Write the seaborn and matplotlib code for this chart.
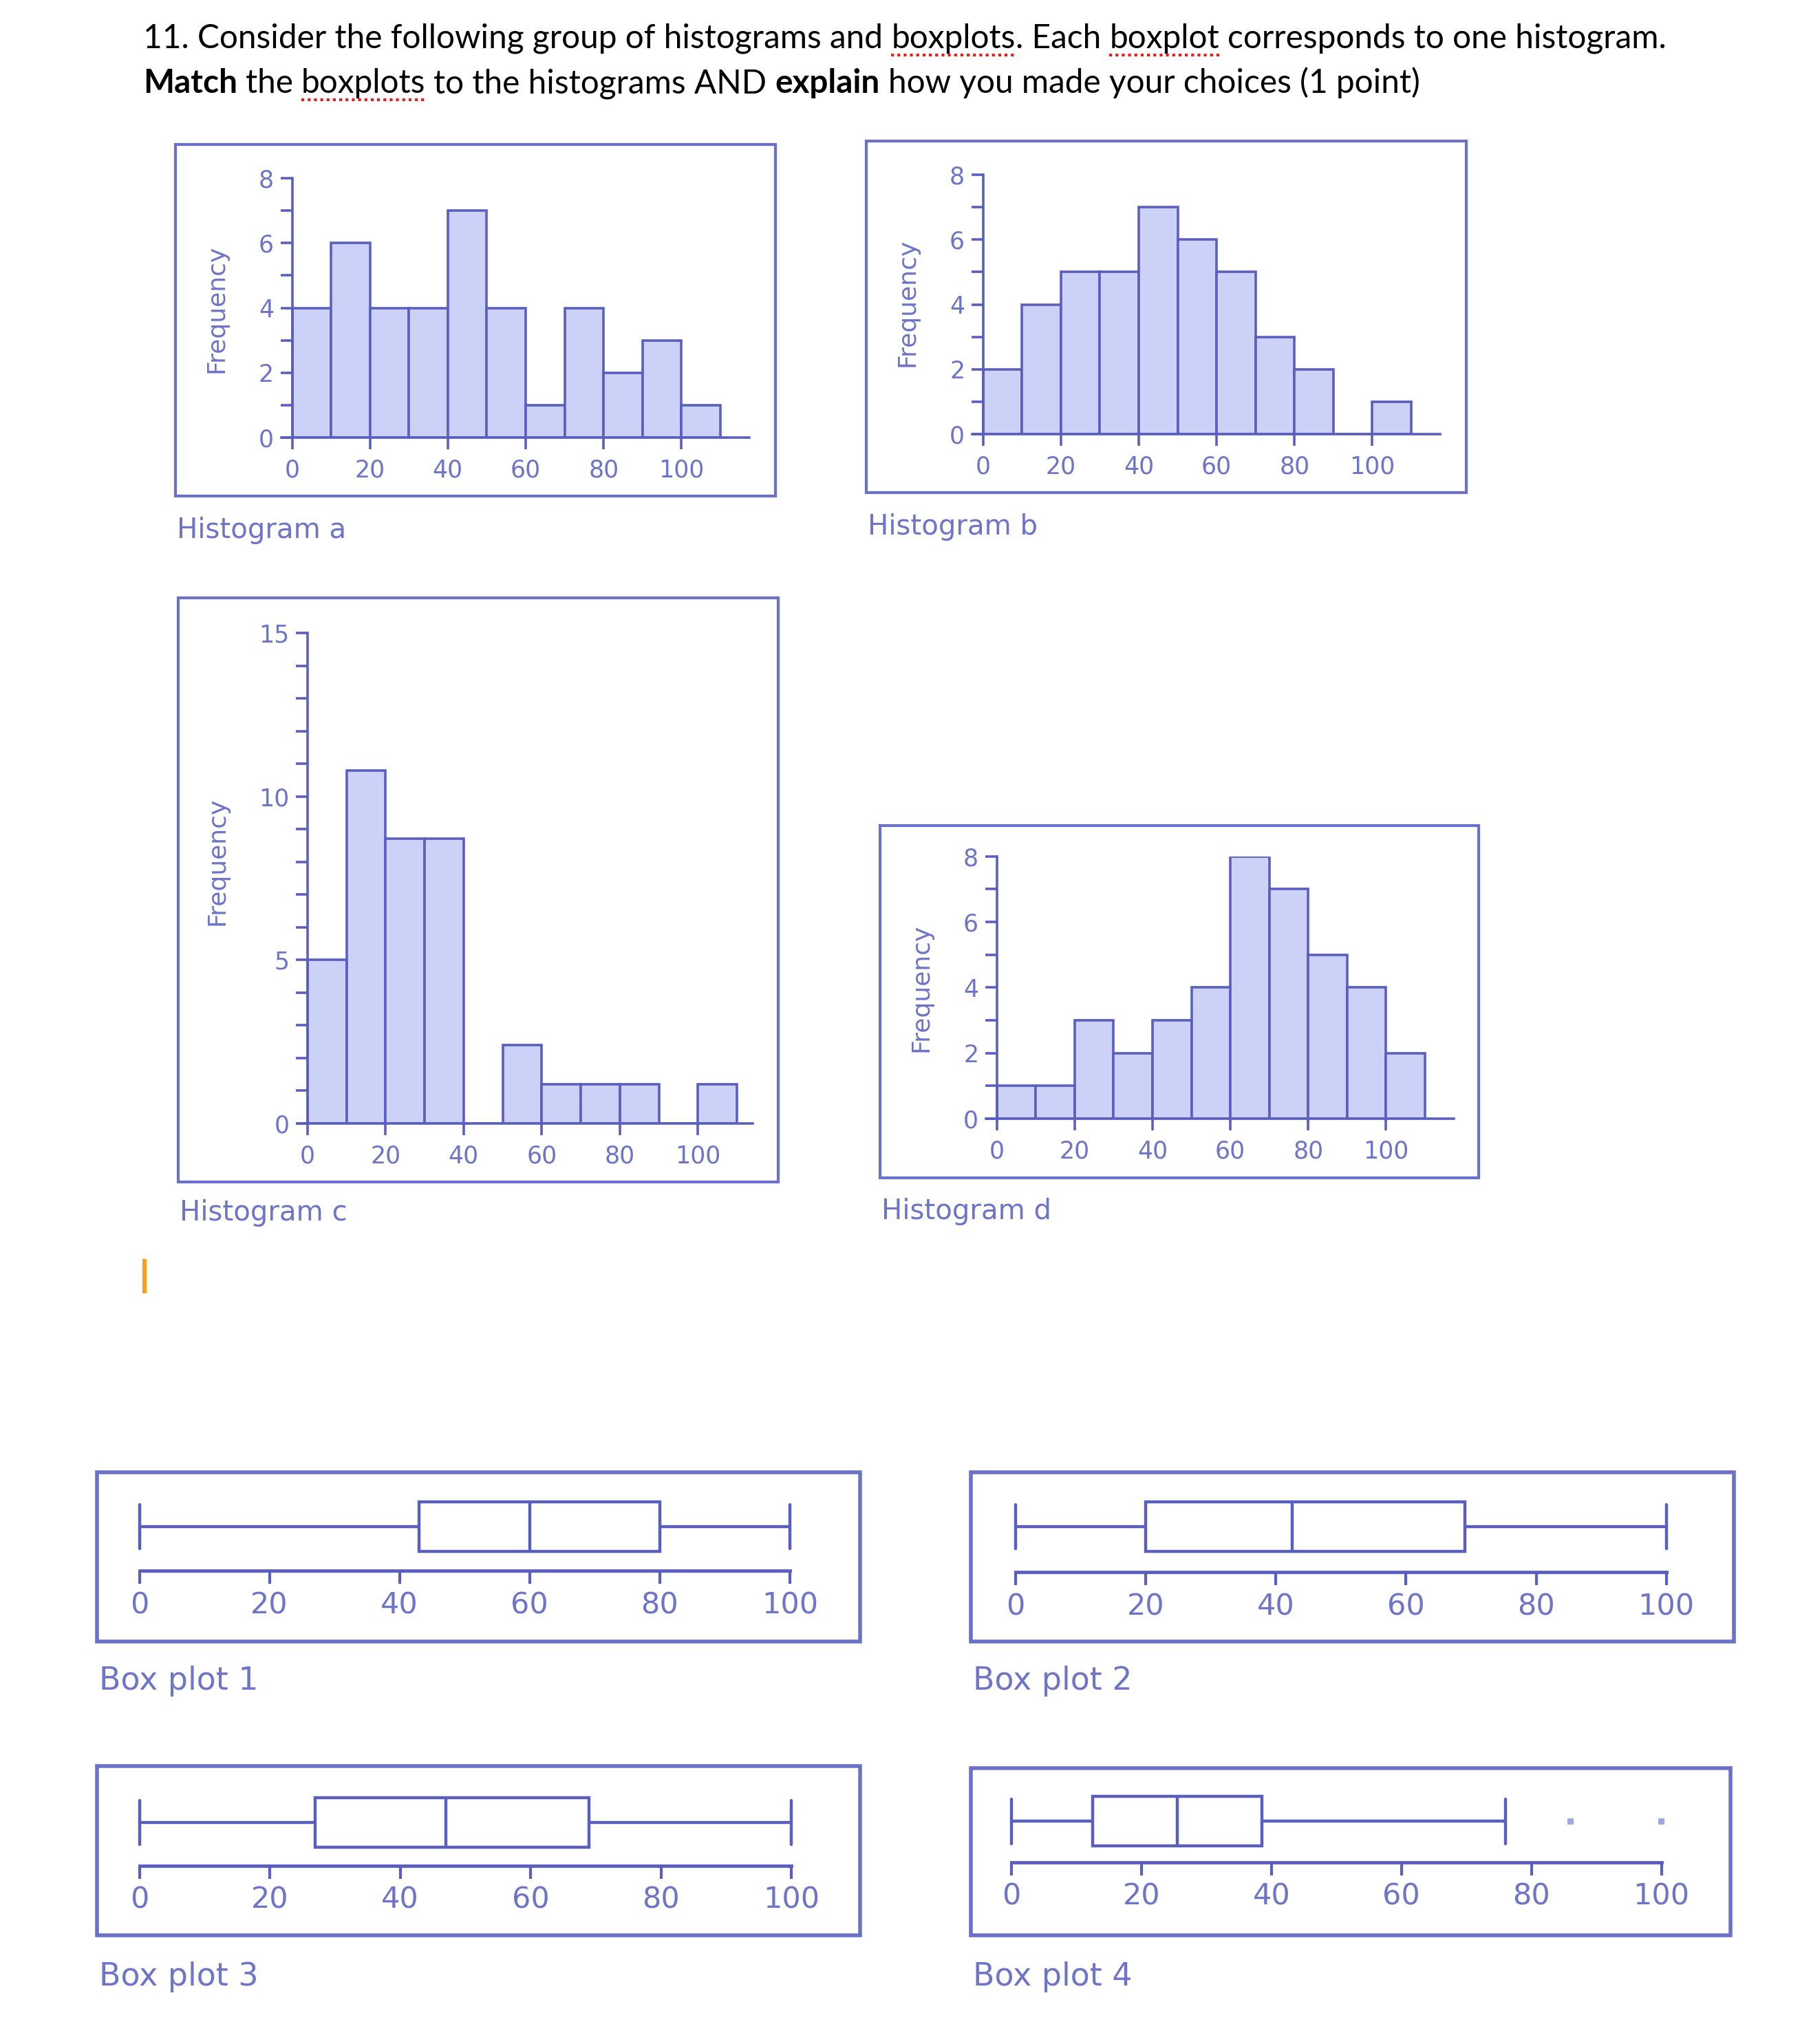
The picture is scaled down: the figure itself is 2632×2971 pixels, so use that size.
import matplotlib
matplotlib.use('Agg')
import matplotlib.pyplot as plt
from matplotlib.patches import Rectangle
from matplotlib.lines import Line2D
import seaborn as sns

W, H = 2632, 2971

# histogram data, bins of width 10
bin_edges = [0, 10, 20, 30, 40, 50, 60, 70, 80, 90, 100, 110]
hist_a = [4, 6, 4, 4, 7, 4, 1, 4, 2, 3, 1]
hist_b = [2, 4, 5, 5, 7, 6, 5, 3, 2, 0, 1]
hist_c = [5, 10.8, 8.7, 8.7, 0, 2.4, 1.2, 1.2, 1.2, 0, 1.2]
hist_d = [1, 1, 3, 2, 3, 4, 8, 7, 5, 4, 2]
hist_xticks = [0, 20, 40, 60, 80, 100]

# box plots: min, Q1, median, Q3, upper whisker
box_1 = [0, 43, 60, 80, 100]
box_2 = [0, 20, 42.5, 69, 100]
box_3 = [0, 27, 47, 69, 100]
box_4 = [0, 12.5, 25.5, 38.5, 76]
box_4_outliers = [86, 100]
box_ticks = [0, 20, 40, 60, 80, 100]

title_line1 = [("11. Consider the following group of histograms and", "normal", False, True),
               ("boxplots", "normal", True, False),
               (". Each", "normal", False, True),
               ("boxplot", "normal", True, True),
               ("corresponds to one histogram.", "normal", False, False)]
title_line2 = [("Match", "bold", False, True),
               ("the", "normal", False, True),
               ("boxplots", "normal", True, True),
               ("to the histograms AND", "normal", False, True),
               ("explain", "bold", False, True),
               ("how you made your choices (1 point)", "normal", False, False)]

frame_col = '#6b70c8'
edge_col = '#5a5fbf'
bar_fill = '#ccd1f7'
text_col = '#6e74c6'
dot_col = '#a4a8e0'
label_font = 'DejaVu Sans'

sns.set_style('ticks')
plt.rcParams['font.family'] = ['DejaVu Sans']

fig = plt.figure(figsize=(W / 100, H / 100), dpi=100)
fig.patch.set_facecolor('white')
renderer = fig.canvas.get_renderer()


def fx(px):
    return px / W


def fy(py):
    return 1 - py / H


def add_frame(l, t, r, b, lw):
    fig.add_artist(Rectangle((fx(l), fy(b)), fx(r) - fx(l), fy(t) - fy(b),
                             transform=fig.transFigure, fill=False,
                             edgecolor=frame_col, linewidth=lw))


# ---- title text ----
def text_width(s, size, weight):
    t = fig.text(0, 0, s, fontsize=size, fontweight=weight, family='Lato')
    w = t.get_window_extent(renderer).width
    t.remove()
    return w


def draw_runs(runs, x0, base, size):
    x = x0
    for txt, weight, squiggle, space in runs:
        t = fig.text(fx(x), fy(base), txt, fontsize=size, fontweight=weight,
                     family='Lato', va='baseline', ha='left', color='black')
        w = t.get_window_extent(renderer).width
        if squiggle:
            fig.add_artist(Line2D([fx(x), fx(x + w)], [fy(base + 10), fy(base + 10)],
                                  transform=fig.transFigure, color='#e0201c',
                                  linestyle=(0, (1, 1.2)), linewidth=3))
        x += w
        if space:
            x += text_width("a a", size, weight) - text_width("aa", size, weight)


trial = 30
total = 0
for txt, weight, sq, space in title_line1:
    total += text_width(txt, trial, weight)
    if space:
        total += text_width("a a", trial, weight) - text_width("aa", trial, weight)
title_size = trial * 2212 / total

draw_runs(title_line1, 208, 70, title_size)
draw_runs(title_line2, 208, 135, title_size)

# text cursor
fig.add_artist(Line2D([fx(210), fx(210)], [fy(1830), fy(1880)], transform=fig.transFigure,
                      color='#f5a020', linewidth=4.5, solid_capstyle='butt'))

# ---- histograms ----
mids = [(a + b) / 2 for a, b in zip(bin_edges[:-1], bin_edges[1:])]


def hist_panel(counts, frame, x0_px, x100_px, y0_px, ytop_px, ytop, major, xlo, xhi,
               label, label_xy, freq_xy):
    unit = (x100_px - x0_px) / 100
    left = x0_px + xlo * unit
    right = x0_px + xhi * unit
    add_frame(*frame, lw=3)
    ax = fig.add_axes([fx(left), fy(y0_px), fx(right) - fx(left), fy(ytop_px) - fy(y0_px)])
    ax.patch.set_alpha(0)
    sns.histplot(x=mids, weights=counts, bins=bin_edges, ax=ax, color=bar_fill,
                 edgecolor=edge_col, linewidth=2.6, alpha=1)
    ax.set_xlim(xlo, xhi)
    ax.set_ylim(0, ytop)
    ax.set_xlabel('')
    ax.set_ylabel('')
    for s in ['top', 'right']:
        ax.spines[s].set_visible(False)
    ax.spines['left'].set_position(('data', 0))
    for s in ['left', 'bottom']:
        ax.spines[s].set_color(edge_col)
        ax.spines[s].set_linewidth(2.6)
    ax.set_xticks(hist_xticks)
    ax.set_yticks(list(range(0, ytop + 1, major)))
    ax.set_yticks(list(range(0, ytop + 1)), minor=True)
    ax.tick_params(axis='both', which='both', direction='out', length=12, width=2.6,
                   color=edge_col, labelcolor=text_col, labelsize=25,
                   bottom=True, left=True, top=False, right=False)
    ax.tick_params(axis='x', which='minor', bottom=False)
    ax.tick_params(axis='x', pad=10)
    ax.tick_params(axis='y', pad=7)
    for lab in ax.get_xticklabels() + ax.get_yticklabels():
        lab.set_family(label_font)
    fig.text(fx(freq_xy[0]), fy(freq_xy[1]), 'Frequency', rotation=90, ha='center',
             va='center', fontsize=26, color=text_col, family=label_font)
    fig.text(fx(label_xy[0]), fy(label_xy[1]), label, ha='left', va='center',
             fontsize=29, color=text_col, family=label_font)
    return ax


hist_panel(hist_a, (254.6, 209.6, 1127, 721), 424.5, 990.4, 635.6, 259.4, 8, 2, -2.8, 117.4,
           'Histogram a', (257, 771), (314.5, 449))
hist_panel(hist_b, (1258.6, 204.6, 2131, 716), 1428.6, 1994.4, 630.6, 254.4, 8, 2, -2.8, 117.4,
           'Histogram b', (1261, 766), (1318.5, 440))
hist_panel(hist_c, (258.6, 869, 1131, 1718), 446.8, 1014.4, 1633, 920, 15, 5, -2.5, 114,
           'Histogram c', (261, 1763), (315.6, 1252))
hist_panel(hist_d, (1278.6, 1199.8, 2148.5, 1712), 1448.6, 2014.4, 1626, 1244.7, 8, 2, -2.8, 117.4,
           'Histogram d', (1281, 1761), (1338.5, 1436))

# ---- box plots ----
unit_y = 90.0


def box_panel(vals, outliers, frame, x0_px, x100_px, center_px, axis_px, label, label_xy):
    unit = (x100_px - x0_px) / 100
    left = x0_px - 5 * unit
    right = x100_px + 5 * unit
    top = center_px - 0.62 * unit_y
    add_frame(*frame, lw=4)
    ax = fig.add_axes([fx(left), fy(axis_px), fx(right) - fx(left), fy(top) - fy(axis_px)])
    ax.patch.set_alpha(0)
    sns.boxplot(x=vals, ax=ax, color='white', linecolor=edge_col, linewidth=3.2,
                width=0.8, whis=1.5, capwidths=0.72)
    if outliers:
        sns.scatterplot(x=outliers, y=[0] * len(outliers), ax=ax, marker='s', s=40,
                        color=dot_col, edgecolor='none')
    ax.set_xlim(-5, 105)
    ax.set_ylim((axis_px - center_px) / unit_y, -0.62)
    for s in ['top', 'right', 'left']:
        ax.spines[s].set_visible(False)
    ax.spines['bottom'].set_bounds(0, 100)
    ax.spines['bottom'].set_color(edge_col)
    ax.spines['bottom'].set_linewidth(3.5)
    ax.set_yticks([])
    ax.set_xticks(box_ticks)
    ax.set_xlabel('')
    ax.tick_params(axis='x', direction='out', length=14, width=3, color=edge_col,
                   labelcolor=text_col, labelsize=31, pad=7, bottom=True)
    for lab in ax.get_xticklabels():
        lab.set_family(label_font)
    fig.text(fx(label_xy[0]), fy(label_xy[1]), label, ha='left', va='center',
             fontsize=33, color=text_col, family=label_font)


box_panel(box_1, [], (140.9, 2140, 1249.6, 2386), 202.5, 1148.1, 2219, 2283.3,
          'Box plot 1', (144.5, 2443))
box_panel(box_2, [], (1410.9, 2140, 2519.6, 2386), 1476, 2421.7, 2219, 2285,
          'Box plot 2', (1414.5, 2443))
box_panel(box_3, [], (141, 2566.8, 1249.6, 2812.6), 202.5, 1150, 2649, 2711.6,
          'Box plot 3', (144.5, 2873))
box_panel(box_4, box_4_outliers, (1411, 2570, 2515, 2812.6), 1470, 2414.5, 2647.4, 2706.6,
          'Box plot 4', (1414, 2873))

fig.savefig('out.png', dpi=100, facecolor='white')
